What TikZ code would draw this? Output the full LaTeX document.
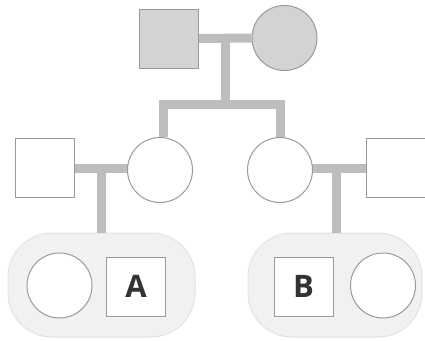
\documentclass[tikz,border=0pt]{standalone}
\usepackage{fontspec}
\setmainfont{Open Sans}
\pgfdeclarelayer{blobs}
\pgfdeclarelayer{links}
\pgfsetlayers{blobs,links,main}
\definecolor{edgegray}{HTML}{9A9A9A}
\definecolor{linegray}{HTML}{BDBDBD}
\definecolor{fillgray}{HTML}{D3D3D3}
\definecolor{blobgray}{HTML}{F1F1F1}
\definecolor{blobedge}{HTML}{E2E2E2}
\definecolor{textgray}{HTML}{333333}
\begin{document}
\begin{tikzpicture}[x=1pt,y=-1pt,
  male/.style={draw=edgegray,line width=1pt,fill=white,minimum width=59pt,minimum height=59pt,inner sep=0pt},
  female/.style={circle,draw=edgegray,line width=1pt,fill=white,minimum size=65pt,inner sep=0pt},
  affected/.style={fill=fillgray},
  link/.style={draw=linegray,line width=9pt},
  blob/.style={draw=blobedge,line width=1pt,fill=blobgray,rounded corners=44pt,inner sep=0pt},
  lbl/.style={font=\bfseries\fontsize{31}{31}\selectfont,text=textgray}]
\useasboundingbox (0,0) rectangle (425,340);
% generation 1
\node[male,affected] (gf) at (168.5,38.5) {};
\node[female,affected] (gm) at (284.5,38) {};
\coordinate (m1) at (225,38);
\coordinate (s1) at (225,104.5);
\coordinate (s1l) at (163.5,104.5);
\coordinate (s1r) at (280.5,104.5);
% generation 2
\node[male] (lh) at (44.5,168) {};
\node[female] (ld) at (160,170) {};
\node[female] (rd) at (280,170) {};
\node[male] (rh) at (395.5,168) {};
\coordinate (m2l) at (101,168);
\coordinate (m2r) at (336.5,168);
% generation 3
\node[female] (c1) at (59.5,285.5) {};
\node[male] (cA) at (136,286.5) {};
\node[lbl] at (cA) {A};
\node[male] (cB) at (303.5,286.5) {};
\node[lbl] at (cB) {B};
\node[female] (c2) at (383,285.5) {};
% blobs
\begin{pgfonlayer}{blobs}
\node[blob,minimum width=187pt,minimum height=104pt] (blobA) at (101.5,285) {};
\node[blob,minimum width=174pt,minimum height=104pt] (blobB) at (335,285) {};
\end{pgfonlayer}
% connectors
\begin{pgfonlayer}{links}
\draw[link] (gf.east) -- (gm.west);
\draw[link] (m1) -- (s1);
\draw[link,line cap=rect] (s1l) -- (s1r);
\draw[link] (s1l) -- (ld.north -| s1l);
\draw[link] (s1r) -- (rd.north -| s1r);
\draw[link] (lh.east) -- (lh.east -| ld.center);
\draw[link] (rh.west) -- (rh.west -| rd.center);
\draw[link] (m2l) -- (m2l |- blobA.north);
\draw[link] (m2r) -- (m2r |- blobB.north);
\end{pgfonlayer}
\end{tikzpicture}
\end{document}
